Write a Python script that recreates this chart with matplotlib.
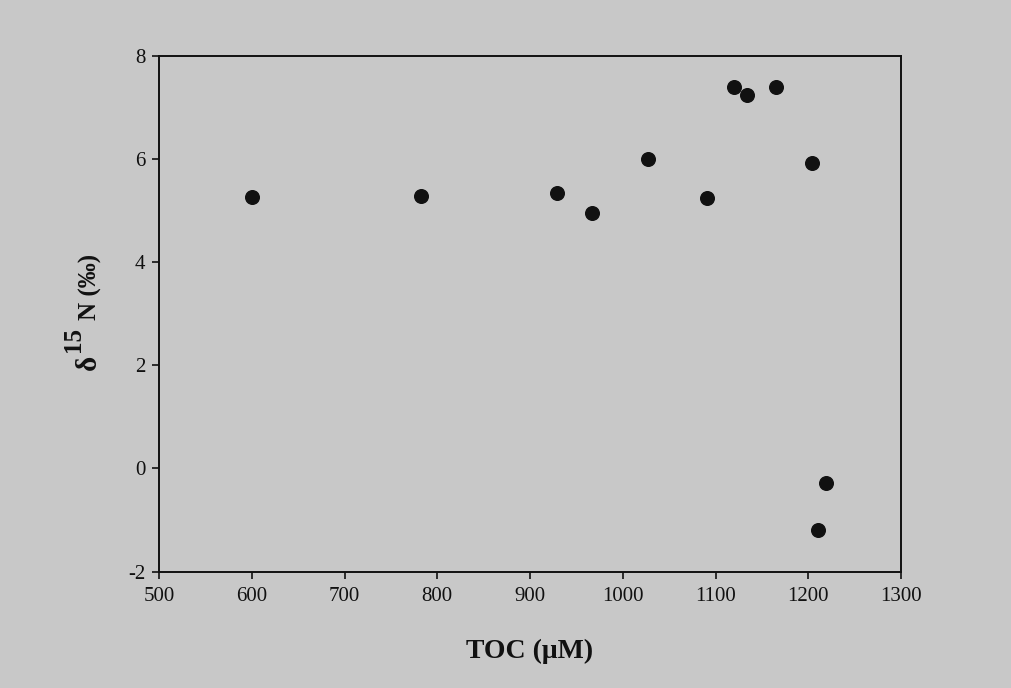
#!/usr/bin/env python3

"""Scatter of d15N against TOC."""

import matplotlib

matplotlib.use("Agg")
import matplotlib.pyplot as plt

toc_um = [600, 782, 929, 967, 1027, 1091, 1120, 1134, 1165, 1204, 1219, 1210]
d15n = [5.27, 5.29, 5.34, 4.95, 6.00, 5.25, 7.40, 7.25, 7.39, 5.93, -0.29, -1.20]

x_ticks = [500, 600, 700, 800, 900, 1000, 1100, 1200, 1300]
y_ticks = [-2, 0, 2, 4, 6, 8]

BG = "#c8c8c8"
INK = "#111111"
W, H = 1011, 688

plt.rcParams["font.family"] = ["Liberation Serif", "DejaVu Serif"]
plt.rcParams["axes.unicode_minus"] = False

fig = plt.figure(figsize=(W / 100, H / 100), dpi=100, facecolor=BG)
ax = fig.add_axes([0.1573, 0.1693, 0.7339, 0.7493], facecolor=BG)

ax.plot(toc_um, d15n, linestyle="none", marker="o", markersize=9.8,
        color=INK, markeredgecolor=INK)

ax.set_xlim(500, 1300)
ax.set_ylim(-2, 8)
ax.set_xticks(x_ticks)
ax.set_yticks(y_ticks)
ax.tick_params(axis="both", direction="out", length=5, width=1.2,
               labelsize=15, color=INK, labelcolor=INK)
ax.tick_params(axis="x", pad=6)
ax.tick_params(axis="y", pad=5)

for spine in ax.spines.values():
    spine.set_linewidth(1.4)
    spine.set_color(INK)

ax.set_xlabel("TOC (\u03bcM)", fontsize=20, fontweight="bold", labelpad=24,
              color=INK)


def px_text(x, y, s, size):
    # rotated label piece placed by pixel centre (y measured from the top)
    fig.text(x / W, 1 - y / H, s, rotation=90, ha="center", va="center",
             fontsize=size, fontweight="bold", color=INK)


# y label built from pieces: delta, a large raised "15", then "N (‰)"
px_text(88, 362, "\u03b4", 21)
px_text(74, 339, "15", 18)
px_text(90, 287, "N (\u2030)", 18)

fig.savefig("out.png", dpi=100, facecolor=BG)
plt.close(fig)
